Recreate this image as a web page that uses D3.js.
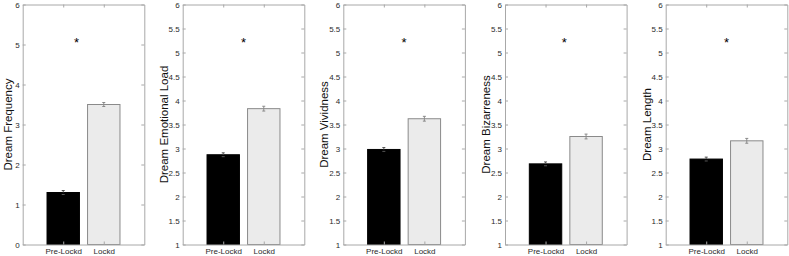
<!DOCTYPE html>
<html>
<head>
<meta charset="utf-8">
<script src="https://cdn.jsdelivr.net/npm/d3@7"></script>
<style>
  body { margin: 0; background: #fff; }
  svg { display: block; font-family: "Liberation Sans", Arial, sans-serif; }
</style>
</head>
<body>
<div id="container"></div>
<script>
/* DATA */
const measures = ["Dream Frequency", "Dream Emotional Load", "Dream Vividness", "Dream Bizarreness", "Dream Length"]
const categories = ["Pre-Lockd", "Lockd"]
const preValues = [1.30, 2.87, 2.98, 2.68, 2.78]
const lockValues = [3.50, 3.83, 3.62, 3.25, 3.16]
const preErr = [0.05, 0.04, 0.04, 0.04, 0.04]
const lockErr = [0.05, 0.05, 0.05, 0.05, 0.05]
const yMins = [0, 1, 1, 1, 1]
const yMaxs = [6, 6, 6, 6, 6]
const tickSteps = [1, 0.5, 0.5, 0.5, 0.5]
const starX = [1.33, 1.5, 1.5, 1.46, 1.5]
const starY = [5.12, 5.27, 5.27, 5.27, 5.27]

/* CONSTANTS */
const width = 789
const height = 256
const panelLefts = [22.7, 182.7, 343.3, 505, 665.7]
const panelW = 121.6
const plotTop = 4.5
const plotBottom = 244.5
const axisColor = "#a8a8a8"
const textColor = "#2a2a2a"

const svg = d3.select("#container")
  .append("svg")
  .attr("width", width)
  .attr("height", height)

measures.forEach((m, i) => {
  const left = panelLefts[i]
  const g = svg.append("g")

  // scales
  const xScale = d3.scaleLinear()
    .domain([0, 3])
    .range([left, left + panelW])
  const yScale = d3.scaleLinear()
    .domain([yMins[i], yMaxs[i]])
    .range([plotBottom, plotTop])

  const yTicks = d3.range(yMins[i], yMaxs[i] + 1e-9, tickSteps[i])

  const bars = [
    { cat: categories[0], x: 1, v: preValues[i], e: preErr[i], fill: "#000", stroke: "#000", err: "#555" },
    { cat: categories[1], x: 2, v: lockValues[i], e: lockErr[i], fill: "#ebebeb", stroke: "#8a8a8a", err: "#8a8a8a" }
  ]
  const bw = xScale(0.8) - xScale(0)

  // bars
  g.selectAll("rect.bar")
    .data(bars)
    .join("rect")
    .attr("class", "bar")
    .attr("x", d => xScale(d.x) - bw / 2)
    .attr("y", d => yScale(d.v))
    .attr("width", bw)
    .attr("height", d => yScale(yMins[i]) - yScale(d.v))
    .attr("fill", d => d.fill)
    .attr("stroke", d => d.stroke)
    .attr("stroke-width", 1)

  // error bars
  bars.forEach(b => {
    const cx = xScale(b.x)
    const lo = b.fill === "#000" ? b.v : b.v - b.e
    g.append("line")
      .attr("x1", cx).attr("x2", cx)
      .attr("y1", yScale(lo)).attr("y2", yScale(b.v + b.e))
      .attr("stroke", b.err).attr("stroke-width", 1)
    ;[b.v - b.e, b.v + b.e].forEach(yv => {
      g.append("line")
        .attr("x1", cx - 1.5).attr("x2", cx + 1.5)
        .attr("y1", yScale(yv)).attr("y2", yScale(yv))
        .attr("stroke", b.err).attr("stroke-width", 1)
    })
  })

  // axes
  const yAxis = d3.axisLeft(yScale)
    .tickValues(yTicks)
    .tickFormat(d3.format("~g"))
    .tickSizeInner(-3).tickSizeOuter(0).tickPadding(3)
  const yAxisR = d3.axisRight(yScale)
    .tickValues(yTicks).tickFormat("")
    .tickSizeInner(-3).tickSizeOuter(0)
  const xAxis = d3.axisBottom(xScale)
    .tickValues([1, 2])
    .tickFormat(d => categories[d - 1])
    .tickSizeInner(-3).tickSizeOuter(0).tickPadding(4)
  const xAxisT = d3.axisTop(xScale)
    .tickValues([1, 2]).tickFormat("")
    .tickSizeInner(-3).tickSizeOuter(0)

  const axes = [
    g.append("g").attr("transform", `translate(${left},0)`).call(yAxis),
    g.append("g").attr("transform", `translate(${left + panelW},0)`).call(yAxisR),
    g.append("g").attr("transform", `translate(0,${plotBottom})`).call(xAxis),
    g.append("g").attr("transform", `translate(0,${plotTop})`).call(xAxisT)
  ]
  axes.forEach(a => {
    a.select(".domain").attr("stroke", axisColor)
    a.selectAll(".tick line").attr("stroke", axisColor)
    a.selectAll(".tick text")
      .attr("fill", textColor)
      .style("font-size", "8px")
      .style("font-family", "Liberation Sans, Arial, sans-serif")
  })

  // y label
  const labelOff = i === 0 ? 11 : 15
  g.append("text")
    .attr("transform", `translate(${left - labelOff},${(plotTop + plotBottom) / 2}) rotate(-90)`)
    .attr("text-anchor", "middle")
    .attr("fill", "#111")
    .style("font-size", "11.5px")
    .text(m)

  // significance star
  g.append("text")
    .attr("x", xScale(starX[i]))
    .attr("y", yScale(starY[i]) + 7.5)
    .attr("text-anchor", "middle")
    .attr("fill", "#000")
    .style("font-size", "13px")
    .text("*")
})
</script>
</body>
</html>
